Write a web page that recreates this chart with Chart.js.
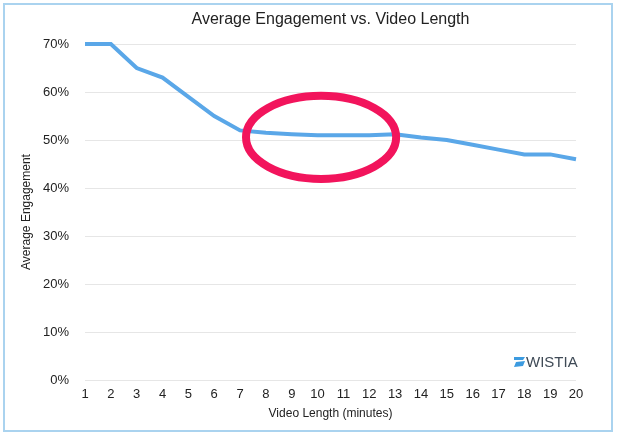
<!DOCTYPE html>
<html>
<head>
<meta charset="utf-8">
<script src="https://cdn.jsdelivr.net/npm/chart.js@4"></script>
<style>
    body { margin: 0; background: #fff; }
    #wrap { position: relative; width: 618px; height: 434px; }
    #frame { position: absolute; left: 3px; top: 3px; width: 606px; height: 425px;
        border: 2px solid #aad3ef; pointer-events: none; }
</style>
</head>
<body>
<div id="wrap">
    <canvas id="engagement-graph" width="618" height="434"></canvas>
    <div id="frame"></div>
</div>
<script>
const videoMinutes = ['1', '2', '3', '4', '5', '6', '7', '8', '9', '10',
    '11', '12', '13', '14', '15', '16', '17', '18', '19', '20'];
const avgEngagement = [70, 70, 65, 63, 59, 55, 52, 51.5, 51.2, 51, 51, 51, 51.2, 50.5, 50, 49, 48, 47, 47, 46];
const yTicks = [0, 10, 20, 30, 40, 50, 60, 70];
const chartTitle = 'Average Engagement vs. Video Length';
const yTitle = 'Average Engagement';
// highlighted region (x in minutes, y in %)
const highlight = { xFrom: 7.23, xTo: 13.04, yFrom: 41.9, yTo: 59.2 };

const fontFamily = "Helvetica, Arial, 'Liberation Sans', sans-serif";

const overlayPlugin = {
    id: 'overlay',
    afterDatasetsDraw(chart) {
        const ctx = chart.ctx;
        const xs = chart.scales.x, ys = chart.scales.y;
        const area = chart.chartArea;
        ctx.save();

        // title centred over the plot area
        ctx.fillStyle = '#222';
        ctx.font = '16px ' + fontFamily;
        ctx.textAlign = 'center';
        ctx.textBaseline = 'middle';
        ctx.fillText(chartTitle, (area.left + area.right) / 2, 20);

        // y axis title
        ctx.save();
        ctx.translate(27, (area.top + area.bottom) / 2);
        ctx.rotate(-Math.PI / 2);
        ctx.font = '12px ' + fontFamily;
        ctx.fillText(yTitle, 0, 0);
        ctx.restore();

        // red ellipse around the plateau
        const x1 = xs.getPixelForValue(highlight.xFrom - 1);
        const x2 = xs.getPixelForValue(highlight.xTo - 1);
        const y1 = ys.getPixelForValue(highlight.yTo);
        const y2 = ys.getPixelForValue(highlight.yFrom);
        ctx.beginPath();
        ctx.ellipse((x1 + x2) / 2, (y1 + y2) / 2, (x2 - x1) / 2, (y2 - y1) / 2, 0, 0, Math.PI * 2);
        ctx.lineWidth = 8;
        ctx.strokeStyle = '#f2145c';
        ctx.stroke();

        // wistia logo
        const lx = area.right - 62, ly = ys.getPixelForValue(0) - 18;
        ctx.fillStyle = '#3c9be0';
        ctx.beginPath();
        ctx.moveTo(lx, ly - 5); ctx.lineTo(lx + 11, ly - 5); ctx.lineTo(lx + 9, ly - 2); ctx.lineTo(lx, ly - 2);
        ctx.closePath(); ctx.fill();
        ctx.beginPath();
        ctx.moveTo(lx + 2, ly); ctx.lineTo(lx + 11, ly - 1); ctx.lineTo(lx + 9, ly + 4); ctx.lineTo(lx, ly + 5);
        ctx.closePath(); ctx.fill();
        ctx.fillStyle = '#3f4a56';
        ctx.font = '15px ' + fontFamily;
        ctx.textAlign = 'left';
        ctx.fillText('WISTIA', lx + 12, ly + 1);
        ctx.restore();
    }
};

function renderLineGraph() {
    const ctx = document.getElementById('engagement-graph').getContext('2d');
    new Chart(ctx, {
        type: 'line',
        data: {
            labels: videoMinutes,
            datasets: [{
                data: avgEngagement,
                borderColor: '#5aa7e8',
                borderWidth: 4,
                pointRadius: 0,
                tension: 0,
                clip: false
            }]
        },
        options: {
            responsive: false,
            animation: false,
            layout: { padding: { left: 27, right: 42, top: 44, bottom: 8 } },
            plugins: {
                legend: { display: false },
                tooltip: { enabled: false },
                title: { display: false }
            },
            scales: {
                x: {
                    offset: false,
                    afterFit: scale => { scale.height = 46; },
                    grid: { display: false },
                    border: { display: false },
                    ticks: { color: '#222', font: { family: fontFamily, size: 13 }, maxRotation: 0, autoSkip: false, padding: -1 },
                    title: {
                        display: true, text: 'Video Length (minutes)', color: '#222',
                        font: { family: fontFamily, size: 12 }, padding: { top: 0, bottom: 5 }
                    }
                },
                y: {
                    min: 0, max: 70,
                    afterBuildTicks: axis => { axis.ticks = yTicks.map(v => ({ value: v })); },
                    grid: { color: '#e6e6e6', drawTicks: false },
                    border: { display: false },
                    ticks: { color: '#222', font: { family: fontFamily, size: 13 }, padding: 16,
                        callback: v => v + '%' }
                }
            }
        },
        plugins: [overlayPlugin]
    });
}

window.onload = renderLineGraph;
</script>
</body>
</html>
